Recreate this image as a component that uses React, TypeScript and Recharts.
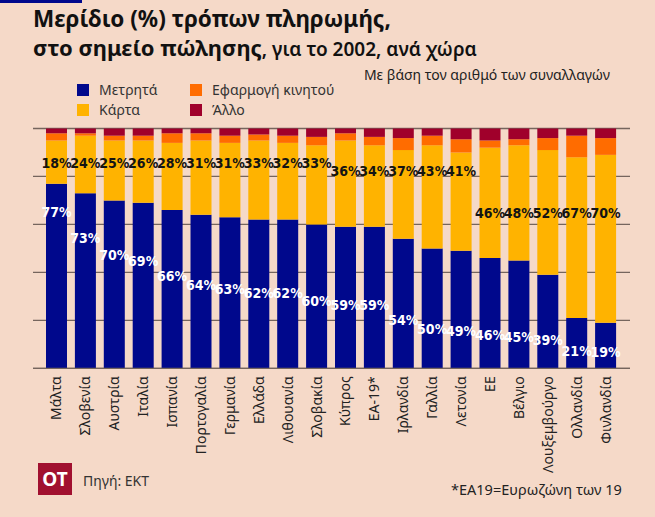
import { Bar, BarChart, CartesianGrid, LabelList, XAxis, YAxis } from 'recharts'

const countries = [
  'Μάλτα', 'Σλοβενία', 'Αυστρία', 'Ιταλία', 'Ισπανία', 'Πορτογαλία', 'Γερμανία',
  'Ελλάδα', 'Λιθουανία', 'Σλοβακία', 'Κύπρος', 'ΕΑ-19*', 'Ιρλανδία', 'Γαλλία',
  'Λετονία', 'ΕΕ', 'Βέλγιο', 'Λουξεμβούργο', 'Ολλανδία', 'Φινλανδία'
]
const cash = [77, 73, 70, 69, 66, 64, 63, 62, 62, 60, 59, 59, 54, 50, 49, 46, 45, 39, 21, 19]
const card = [18, 24, 25, 26, 28, 31, 31, 33, 32, 33, 36, 34, 37, 43, 41, 46, 48, 52, 67, 70]
const mobileApp = [3, 1, 2, 2, 4, 3, 3, 2.5, 3, 3.5, 3, 3.5, 5, 4, 5.5, 3, 2.5, 5, 9, 7]
const other = [2, 2, 3, 3, 2, 2, 3, 2.5, 3, 3.5, 2, 3.5, 4, 3, 4.5, 5, 4.5, 4, 3, 4]
const yTicks = [0, 20, 40, 60, 80, 100]

const BG = '#F5D9C8'
const BLUE = '#00088C'
const YELLOW = '#FFB300'
const ORANGE = '#FF6C00'
const RED = '#A0002B'
const GRID = '#75655d'
const FONT = '"Noto Sans", sans-serif'
const NUM_FONT = '"Liberation Sans Narrow", "DejaVu Sans Condensed", sans-serif'

const rows = countries.map((name, i) => ({
  name,
  cash: cash[i],
  card: card[i],
  mobileApp: mobileApp[i],
  other: other[i]
}))

// where the white label sits inside the blue bar (in % of the axis)
const cashLabelLevel = (v: number) => (v >= 39 ? 0.03723 * v * v - 2.924 * v + 69.41 : 0.35 * v)
// card labels are laid out in three rows
const cardLabelLevel = (v: number) => (v <= 33 ? 85.7 : v <= 43 ? 82.3 : 64.6)

const CashLabel = (props: any) => {
  const { x, y, width, height, value } = props
  const bottom = y + height
  const unit = height / value
  return (
    <text
      x={x + width / 2}
      y={bottom - cashLabelLevel(value) * unit}
      textAnchor="middle"
      dominantBaseline="central"
      fill="#fff"
      fontSize={14}
      fontWeight={700}
      fontFamily={NUM_FONT}
    >
      {value}%
    </text>
  )
}

const CardLabel = (props: any) => {
  const { x, y, width, height, value, index } = props
  const unit = height / value
  const base = y + height + cash[index] * unit
  return (
    <text
      x={x + width / 2}
      y={base - cardLabelLevel(value) * unit}
      textAnchor="middle"
      dominantBaseline="central"
      fill="#141414"
      fontSize={14}
      fontWeight={700}
      fontFamily={NUM_FONT}
    >
      {value}%
    </text>
  )
}

const CountryTick = ({ x, y, payload }: any) => (
  <text
    transform={`translate(${x},${y}) rotate(-90)`}
    x={0}
    y={0}
    dy="0.36em"
    textAnchor="end"
    fontSize={14}
    fill="#222"
    fontFamily={FONT}
  >
    {payload.value}
  </text>
)

const legendItems = [
  { label: 'Μετρητά', color: BLUE, left: 77, top: 84 },
  { label: 'Κάρτα', color: YELLOW, left: 77, top: 104 },
  { label: 'Εφαρμογή κινητού', color: ORANGE, left: 190, top: 84 },
  { label: 'Άλλο', color: RED, left: 190, top: 104 }
]

export default function App() {
  return (
    <div
      style={{
        position: 'absolute',
        left: 0,
        top: 0,
        width: 655,
        height: 517,
        background: BG,
        fontFamily: FONT,
        color: '#111',
        overflow: 'hidden'
      }}
    >
      <div style={{ position: 'absolute', left: 0, top: 0, width: 82, height: 3, background: BLUE }} />
      <div style={{ position: 'absolute', left: 33, top: 5, fontSize: 22.5, fontWeight: 700, lineHeight: '28px', whiteSpace: 'nowrap' }}>
        Μερίδιο (%) τρόπων πληρωμής,
      </div>
      <div style={{ position: 'absolute', left: 33, top: 33, fontSize: 22, fontWeight: 700, lineHeight: '28px', whiteSpace: 'nowrap' }}>
        στο σημείο πώλησης<span style={{ fontSize: 19, fontWeight: 600 }}>, για το 2002, ανά χώρα</span>
      </div>
      <div style={{ position: 'absolute', right: 45, top: 66, fontSize: 14, lineHeight: '18px', color: '#222', whiteSpace: 'nowrap' }}>
        Με βάση τον αριθμό των συναλλαγών
      </div>

      {legendItems.map((item) => (
        <div key={item.label}>
          <div style={{ position: 'absolute', left: item.left, top: item.top, width: 12, height: 12, background: item.color }} />
          <div
            style={{
              position: 'absolute',
              left: item.left + 22,
              top: item.top - 3,
              fontSize: 14,
              lineHeight: '18px',
              color: '#333',
              whiteSpace: 'nowrap'
            }}
          >
            {item.label}
          </div>
        </div>
      ))}

      <div style={{ position: 'absolute', left: 0, top: 0 }}>
        <BarChart
          width={655}
          height={517}
          data={rows}
          margin={{ top: 128.5, right: 25, left: 33, bottom: 68.7 }}
        >
          <CartesianGrid vertical={false} stroke={GRID} strokeWidth={1.3} />
          <XAxis
            dataKey="name"
            interval={0}
            height={80}
            padding={{ left: 9, right: 10 }}
            axisLine={{ stroke: GRID, strokeWidth: 1.3 }}
            tickLine={false}
            tick={<CountryTick />}
          />
          <YAxis hide domain={[0, 100]} ticks={yTicks} />
          <Bar dataKey="cash" stackId="a" fill={BLUE} barSize={21} isAnimationActive={false}>
            <LabelList dataKey="cash" content={<CashLabel />} />
          </Bar>
          <Bar dataKey="card" stackId="a" fill={YELLOW} barSize={21} isAnimationActive={false}>
            <LabelList dataKey="card" content={<CardLabel />} />
          </Bar>
          <Bar dataKey="mobileApp" stackId="a" fill={ORANGE} barSize={21} isAnimationActive={false} />
          <Bar dataKey="other" stackId="a" fill={RED} barSize={21} isAnimationActive={false} />
        </BarChart>
      </div>

      <div
        style={{
          position: 'absolute',
          left: 38,
          top: 463,
          width: 34,
          height: 32,
          background: '#A1102F',
          color: '#fff',
          fontSize: 19,
          fontWeight: 700,
          lineHeight: '32px',
          textAlign: 'center'
        }}
      >
        OT
      </div>
      <div style={{ position: 'absolute', left: 83, top: 472, fontSize: 14, lineHeight: '18px', color: '#333' }}>
        Πηγή: ΕΚΤ
      </div>
      <div style={{ position: 'absolute', left: 451, top: 480, fontSize: 14.5, lineHeight: '18px', color: '#222', whiteSpace: 'nowrap' }}>
        *ΕΑ19=Ευρωζώνη των 19
      </div>
    </div>
  )
}
